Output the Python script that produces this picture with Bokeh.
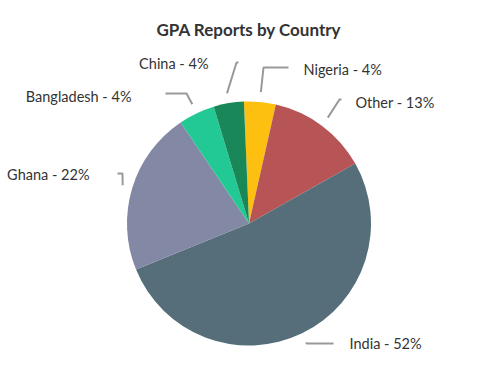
import math
from bokeh.plotting import figure
from bokeh.models import Range1d, ColumnDataSource
from bokeh.core.properties import value
from bokeh.embed import file_html
from bokeh.resources import INLINE

# ---- data ----
countries = ["Nigeria", "Other", "India", "Ghana", "Bangladesh", "China"]
shares = [4.2, 13.3, 52.0, 21.7, 4.8, 4.0]
pct_labels = ["4%", "13%", "52%", "22%", "4%", "4%"]
colors = ["#FDC010", "#B75556", "#556E7A", "#8388A4", "#23C994", "#1A8758"]

# ---- layout (screen pixels) ----
CX, CY, R = 248.5, 223.0, 122.0
START_BEARING = -2.4
label_xy = [(303, 69), (355, 102), (349, 343), (89, 174), (131, 96), (208, 63)]
label_align = ["left", "left", "left", "right", "right", "right"]
elbows = [(263, 67), (339, 99), (306, 343), (122, 173), (186, 93), (236, 62)]
ends = [(288, 67), (341, 99), (333, 343), (117, 173), (165, 93), (238, 62)]

H = 380  # screen y -> data y


def sy(py):
    return H - py


total = sum(shares)
starts, stops, mids = [], [], []
b = START_BEARING
for s in shares:
    span = 360.0 * s / total
    starts.append(90 - b)
    stops.append(90 - (b + span))
    mids.append(b + span / 2)
    b += span

p = figure(width=464, height=364, output_backend="svg", toolbar_location=None,
           x_range=Range1d(0, 464), y_range=Range1d(16, 380), min_border=0)
p.axis.visible = False
p.grid.visible = False
p.outline_line_color = None
p.background_fill_color = "white"
p.border_fill_color = "white"

src = ColumnDataSource(dict(start=starts, end=stops, color=colors))
p.wedge(x=CX, y=sy(CY), radius=R, start_angle="start", end_angle="end",
        start_angle_units="deg", end_angle_units="deg", direction="clock",
        fill_color="color", line_color=None, source=src)

# connectors
xs, ys = [], []
for m, e1, e2 in zip(mids, elbows, ends):
    rad = math.radians(m)
    x0 = CX + (R + 10) * math.sin(rad)
    y0 = CY - (R + 10) * math.cos(rad)
    xs.append([x0, e1[0], e2[0]])
    ys.append([sy(y0), sy(e1[1]), sy(e2[1])])
p.multi_line(xs=xs, ys=ys, line_color="#999999", line_width=2)

# labels
for name, pc, (lx, ly), al in zip(countries, pct_labels, label_xy, label_align):
    p.text(x=[lx], y=[sy(ly)], text=[f"{name} - {pc}"], text_align=al,
           text_baseline="middle", text_font=value("Lato"),
           text_font_size="14.5px", text_color="#333333")

p.text(x=[CX], y=[sy(29)], text=["GPA Reports by Country"], text_align="center",
       text_baseline="middle", text_font=value("Lato"), text_font_size="17px",
       text_font_style="bold", text_color="#333333")

open("out.html", "w").write(file_html(p, INLINE))
